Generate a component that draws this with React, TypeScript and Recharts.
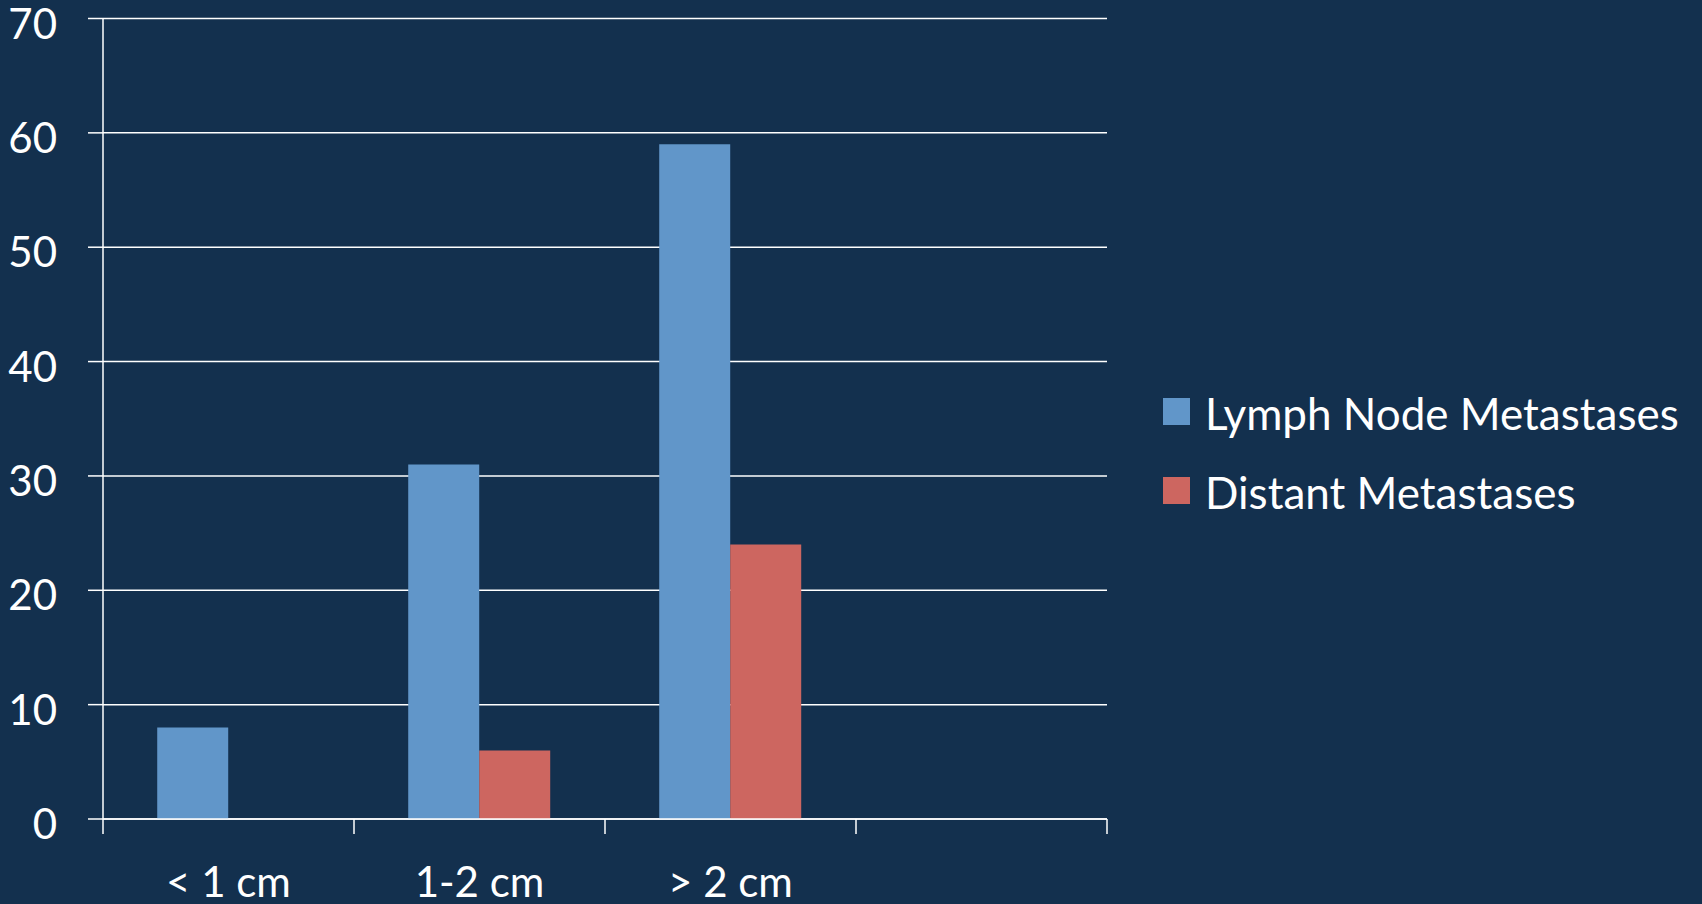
import React from "react";
import { BarChart, Bar, XAxis, YAxis, CartesianGrid, Legend } from "recharts";

const categories = ["< 1 cm", "1-2 cm", "> 2 cm", ""];
const lymphNode: (number | null)[] = [8, 31, 59, null];
const distant: (number | null)[] = [null, 6, 24, null];
const yTicks = [0, 10, 20, 30, 40, 50, 60, 70];
const seriesNames = ["Lymph Node Metastases", "Distant Metastases"];

const data = categories.map((c, i) => ({
  category: c,
  lymph: lymphNode[i],
  distant: distant[i],
}));

const BG = "#13304e";
const BLUE = "#6196c9";
const RED = "#cd6660";
const FONT = "Lato, 'Open Sans', sans-serif";

const W = 1702;
const H = 904;
const LEFT = 103;
const RIGHT = 595;
const TOP = 18.5;
const BOTTOM = 85;
const HALF_BAND = (W - LEFT - RIGHT) / categories.length / 2;

const XTick = (props: any) => {
  const { x, y, payload, index } = props;
  const last = index === categories.length - 1;
  return (
    <g>
      <line x1={x - HALF_BAND} x2={x - HALF_BAND} y1={y} y2={y + 15} stroke="#ffffff" strokeWidth={1.5} />
      {last && (
        <line x1={x + HALF_BAND} x2={x + HALF_BAND} y1={y} y2={y + 15} stroke="#ffffff" strokeWidth={1.5} />
      )}
      <text x={x} y={y + 78} textAnchor="middle" fill="#ffffff" fontSize={42} fontFamily={FONT}>
        {payload.value}
      </text>
    </g>
  );
};

const YTick = (props: any) => {
  const { x, y, payload } = props;
  return (
    <text x={x} y={y + 20} textAnchor="end" fill="#ffffff" fontSize={42} fontFamily={FONT}>
      {payload.value}
    </text>
  );
};

const LegendContent = (props: any) => {
  const payload = [...(props.payload || [])].sort(
    (a: any, b: any) => seriesNames.indexOf(a.value) - seriesNames.indexOf(b.value)
  );
  return (
    <svg width={539} height={140} style={{ display: "block" }}>
      {payload.map((p: any, i: number) => (
        <g key={i}>
          <rect x={0} y={8 + i * 79} width={27} height={27} fill={p.color} />
          <text x={42} y={40 + i * 78.5} fill="#ffffff" fontSize={44} fontFamily={FONT}>
            {p.value}
          </text>
        </g>
      ))}
    </svg>
  );
};

export default function App() {
  return (
    <div style={{ position: "fixed", left: 0, top: 0, width: W, height: H, background: BG }}>
      <BarChart
        width={W}
        height={H}
        data={data}
        margin={{ top: TOP, right: RIGHT, bottom: 0, left: 0 }}
        barCategoryGap="21.6%"
        barGap={0}
      >
        <CartesianGrid vertical={false} stroke="#ffffff" strokeWidth={1.5} />
        <XAxis
          dataKey="category"
          height={BOTTOM}
          tickSize={0}
          tickMargin={0}
          tickLine={false}
          axisLine={{ stroke: "#ffffff", strokeWidth: 1.5 }}
          tick={<XTick />}
          interval={0}
        />
        <YAxis
          width={LEFT}
          domain={[0, 70]}
          ticks={yTicks}
          tickSize={15}
          tickMargin={31}
          tickLine={{ stroke: "#ffffff", strokeWidth: 1.5 }}
          axisLine={{ stroke: "#ffffff", strokeWidth: 1.5 }}
          tick={<YTick />}
          interval={0}
        />
        <Legend
          align="center"
          verticalAlign="middle"
          content={<LegendContent />}
          wrapperStyle={{ left: 1163, top: 390, width: 539, height: 140 }}
        />
        <Bar dataKey="lymph" name={seriesNames[0]} fill={BLUE} isAnimationActive={false} />
        <Bar dataKey="distant" name={seriesNames[1]} fill={RED} isAnimationActive={false} />
      </BarChart>
    </div>
  );
}
